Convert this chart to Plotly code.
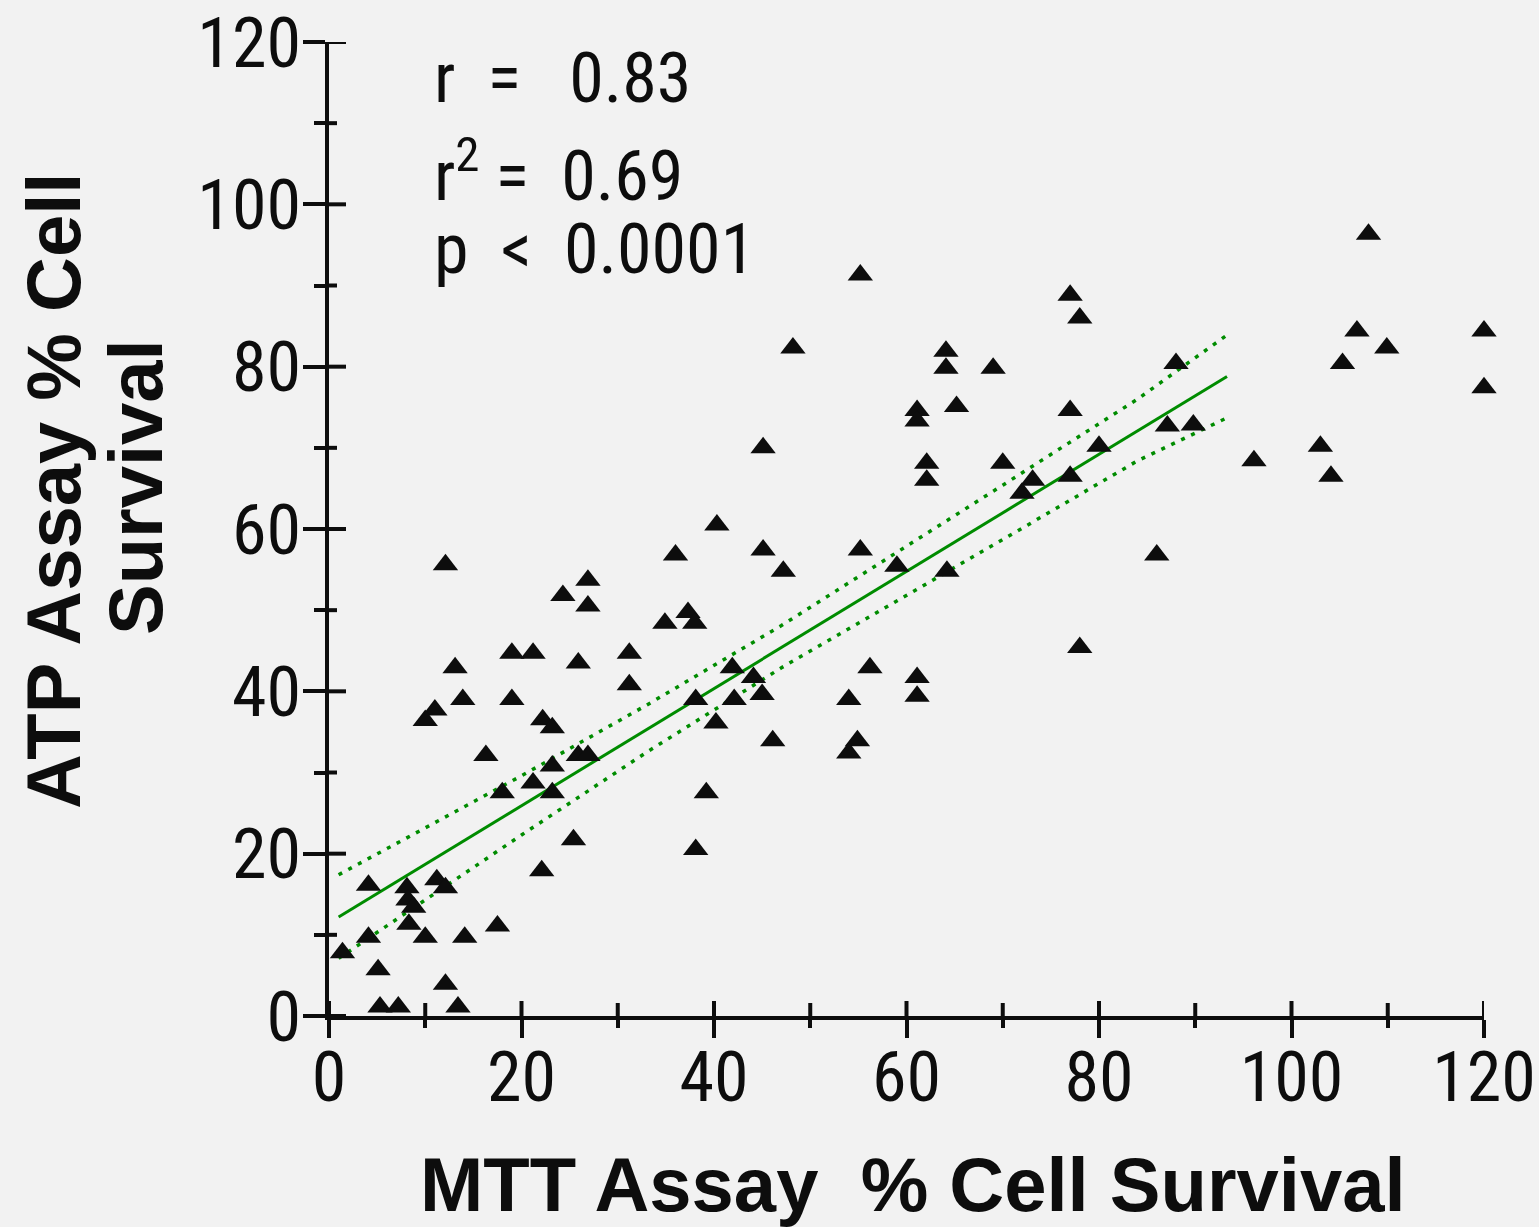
import plotly.graph_objects as go

# ---- data ----
mtt_survival = [55.2, 108.0, 48.2, 77.0, 78.0, 64.1, 64.1, 69.0, 88.0, 106.8,
                109.9, 105.3, 120.0, 120.0, 87.1, 89.8, 103.0, 96.1, 104.1, 86.0,
                80.0, 61.1, 61.1, 65.2, 77.0, 45.1, 62.1, 62.1, 70.0, 73.1,
                72.0, 77.0, 40.3, 36.0, 45.1, 55.2, 47.2, 59.0, 64.2, 78.0,
                34.9, 37.3, 38.0, 56.2, 41.9, 61.1, 61.1, 44.1, 45.0, 38.1,
                42.1, 54.0, 40.2, 46.1, 54.9, 54.0, 12.1, 26.9, 24.3, 26.9,
                19.0, 21.2, 25.9, 31.2, 13.1, 31.2, 13.9, 19.0, 11.0, 10.0,
                22.2, 23.2, 16.3, 25.9, 26.9, 23.2, 21.2, 18.0, 23.2, 39.2,
                25.4, 38.1, 22.1, 4.1, 8.1, 8.2, 8.8, 8.3, 11.2, 12.1,
                4.1, 1.4, 10.0, 14.1, 17.5, 5.1, 12.1, 5.3, 7.2, 13.4]
atp_survival = [91.3, 96.3, 82.3, 88.8, 86.0, 81.9, 79.8, 79.8, 80.4, 84.4,
                82.3, 80.4, 84.4, 77.4, 72.7, 72.8, 70.2, 68.4, 66.5, 56.8,
                70.2, 74.6, 73.3, 75.1, 74.6, 70.0, 68.1, 66.0, 68.1, 66.0,
                64.4, 66.5, 60.5, 56.8, 57.4, 57.4, 54.8, 55.4, 54.8, 45.4,
                48.4, 49.7, 48.4, 42.9, 42.9, 41.7, 39.4, 41.7, 39.6, 39.0,
                39.0, 39.0, 36.1, 33.9, 33.9, 32.4, 55.6, 53.7, 51.8, 50.5,
                44.7, 44.7, 43.5, 44.7, 42.9, 40.8, 39.0, 39.0, 37.7, 36.4,
                36.5, 35.5, 32.1, 32.1, 32.1, 30.8, 28.7, 27.5, 27.5, 27.5,
                21.7, 20.5, 17.9, 16.1, 15.8, 14.3, 13.4, 11.3, 16.8, 15.8,
                9.7, 7.8, 9.7, 9.7, 11.1, 5.7, 3.9, 1.1, 1.1, 1.1]

fit_x = [1, 20, 33, 47, 70, 84, 93.3]
fit_mid = [12.2, 25.9, 35.3, 45.4, 62.0, 72.1, 78.8]
fit_upper = [17.4, 29.6, 38.3, 48.1, 65.4, 76.0, 83.9]
fit_lower = [7.1, 22.3, 32.5, 42.9, 58.7, 68.4, 73.7]

major_ticks = [0, 20, 40, 60, 80, 100, 120]
minor_ticks = [10, 30, 50, 70, 90, 110]

NB = "\u00a0"
stats_lines = ["r" + NB * 2 + "=" + NB * 3 + "0.83",
               "r<sup>2</sup>" + NB + "=" + NB * 2 + "0.69",
               "p" + NB * 2 + "<" + NB * 2 + "0.0001"]
x_title = "MTT Assay" + NB * 2 + "% Cell Survival"
y_title_lines = ["ATP Assay % Cell", "Survival"]

# ---- styling ----
W, H = 1539, 1227
L, R, T, B = 329, 55, 42, 211
PW, PH = W - L - R, H - T - B
BG = "#F2F2F2"
INK = "#0D0D0D"
GREEN = "#008C00"
NARROW = "Roboto Condensed, Liberation Sans Narrow, Liberation Sans, sans-serif"
BOLD = "Liberation Sans, Arial, sans-serif"
TICK_SIZE = 70


def px_x(p):
    return (p - L) / PW


def px_y(p):
    return (H - B - p) / PH


fig = go.Figure()

fig.add_trace(go.Scatter(x=fit_x, y=fit_upper, mode="lines",
                         line=dict(color=GREEN, width=3.5, dash="4px,7px"),
                         hoverinfo="skip", showlegend=False))
fig.add_trace(go.Scatter(x=fit_x, y=fit_lower, mode="lines",
                         line=dict(color=GREEN, width=3.5, dash="4px,7px"),
                         hoverinfo="skip", showlegend=False))
fig.add_trace(go.Scatter(x=fit_x, y=fit_mid, mode="lines",
                         line=dict(color=GREEN, width=3),
                         hoverinfo="skip", showlegend=False))
fig.add_trace(go.Scatter(x=mtt_survival, y=atp_survival, mode="markers",
                         marker=dict(symbol="triangle-up", size=22, color=INK),
                         cliponaxis=False, showlegend=False))

axis_common = dict(range=[0, 120], showgrid=False, zeroline=False,
                   showline=True, linecolor=INK, linewidth=4,
                   tickmode="array", tickvals=major_ticks,
                   ticktext=[str(v) for v in major_ticks],
                   ticks="outside", tickcolor=INK, tickwidth=4,
                   ticklabeloverflow="allow",
                   tickfont=dict(family=NARROW, size=TICK_SIZE, color=INK))

fig.update_xaxes(**axis_common, ticklen=18, ticklabelstandoff=-21,
                 minor=dict(tickmode="array", tickvals=minor_ticks, ticks="outside",
                            ticklen=8, tickwidth=4, tickcolor=INK))
fig.update_yaxes(**axis_common, ticklen=22, ticklabelstandoff=-12,
                 minor=dict(tickmode="array", tickvals=minor_ticks, ticks="outside",
                            ticklen=11, tickwidth=4, tickcolor=INK))

# inner halves of the crossing ticks
shapes = []
for v, ln in [(v, 15) for v in major_ticks] + [(v, 13) for v in minor_ticks]:
    shapes.append(dict(type="line", xref="x", yref="y", ysizemode="pixel", yanchor=0,
                       x0=v, x1=v, y0=0, y1=ln, line=dict(color=INK, width=4)))
for v, ln in [(v, 17) for v in major_ticks] + [(v, 8) for v in minor_ticks]:
    shapes.append(dict(type="line", xref="x", yref="y", xsizemode="pixel", xanchor=0,
                       y0=v, y1=v, x0=0, x1=ln, line=dict(color=INK, width=4)))

annotations = []
for txt, ypx in zip(stats_lines, [119, 217, 290]):
    annotations.append(dict(text=txt, xref="paper", yref="paper", x=px_x(434), y=px_y(ypx),
                            xanchor="left", yanchor="bottom", showarrow=False,
                            borderpad=0, borderwidth=0,
                            font=dict(family=NARROW, size=TICK_SIZE, color=INK)))
annotations.append(dict(text=x_title, xref="paper", yref="paper", x=px_x(913), y=px_y(1184),
                        xanchor="center", yanchor="middle", showarrow=False,
                        borderpad=0, borderwidth=0,
                        font=dict(family=BOLD, size=76, color=INK, weight="bold")))
for txt, xpx, ypx in zip(y_title_lines, [53, 135], [491, 487]):
    annotations.append(dict(text=txt, xref="paper", yref="paper", x=px_x(xpx), y=px_y(ypx),
                            xanchor="center", yanchor="middle", textangle=-90, showarrow=False,
                            borderpad=0, borderwidth=0,
                            font=dict(family=BOLD, size=76, color=INK, weight="bold")))

fig.update_layout(width=W, height=H, margin=dict(l=L, r=R, t=T, b=B, autoexpand=False),
                  paper_bgcolor=BG, plot_bgcolor=BG, showlegend=False,
                  shapes=shapes, annotations=annotations)

fig.write_html("out.html")
